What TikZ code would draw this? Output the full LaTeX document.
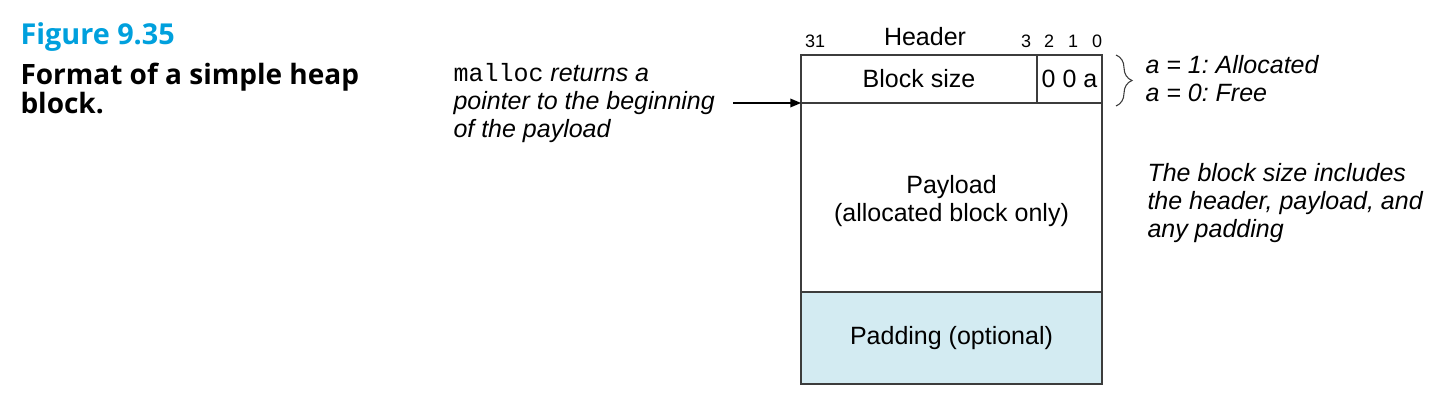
\documentclass[tikz,border=0pt]{standalone}
\usepackage{fontspec}
\setmainfont{Liberation Sans}
\setmonofont{Liberation Mono}
\newfontfamily\capfont{Open Sans}
\usetikzlibrary{arrows.meta,decorations.pathreplacing,positioning}
\definecolor{figblue}{RGB}{0,160,221}
\definecolor{padblue}{RGB}{211,235,242}
\definecolor{boxline}{RGB}{60,60,60}
\tikzset{every picture/.style={line width=0.75pt}}
\frenchspacing

\begin{document}
\begin{tikzpicture}[x=0.75pt,y=0.75pt,yscale=-1,xscale=1,
  field/.style={draw=boxline, line width=1.1pt, outer sep=0pt, inner sep=0pt,
    font=\fontsize{18.75}{21}\selectfont, align=center},
  bitno/.style={inner sep=0pt, font=\fontsize{13.5}{15}\selectfont},
  note/.style={inner sep=0pt, align=left, font=\fontsize{18.75}{21}\selectfont\itshape},
  figcap/.style={inner sep=0pt, align=left, font=\capfont\bfseries\fontsize{21}{21.75}\selectfont},
  ptr/.style={-{Triangle[length=8pt,width=6.5pt]}, line width=1pt}
]
\useasboundingbox (0,0) rectangle (1448,410);

% Caption
\node[figcap, text=figblue, anchor=west, font=\capfont\bfseries\fontsize{21.6}{24}\selectfont] (fignum) at (20,37) {Figure 9.35};
\node[figcap, anchor=west] (figtitle) at (20,88) {Format of a simple heap\\block.};

% Header row
\node[field, minimum width=177pt, minimum height=36pt, anchor=north west] (bsize) at (801,55) {Block size};
\node[field, minimum width=48.75pt, minimum height=36pt, right=0pt of bsize] (flags) {0 0 a};
% Payload and padding
\node[field, minimum width=225.75pt, minimum height=141.75pt, below right=0pt and 0pt of bsize.south west] (payload) {};
\node[field, draw=none] (payloadtxt) at ([yshift=3pt]payload.center) {Payload\\(allocated block only)};
\node[field, fill=padblue, minimum width=225.75pt, minimum height=69pt, below=0pt of payload] (padding) {Padding (optional)};

% Bit positions
\node[field, draw=none] (header) at (925,37) {Header};
\node[bitno] (bit31) at (815,41) {31};
\foreach \b/\x in {3/1026,2/1049,1/1073,0/1097}
  \node[bitno] (bit\b) at (\x,41) {\b};

% Allocated flag
\draw[decorate, decoration={brace, amplitude=12pt}, line width=0.8pt, boxline] (1116,55) -- (1116,106);
\node[note, anchor=west] (flagnote) at (1145,79) {a = 1: Allocated\\a = 0: Free};

% Notes
\node[note, anchor=west] (ptrtxt) at (453,103) {{\upshape\ttfamily malloc} returns a\\pointer to the beginning\\of the payload};
\node[note, anchor=west] (sizenote) at (1147,203) {The block size includes\\the header, payload, and\\any padding};

\coordinate (ptrtail) at (733,103);
\draw[ptr] (ptrtail) -- (payload.north west);

\end{tikzpicture}
\end{document}
